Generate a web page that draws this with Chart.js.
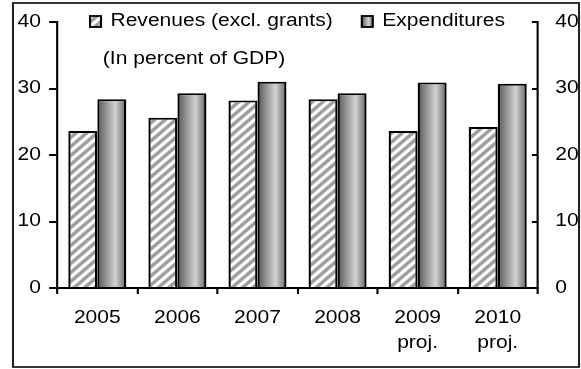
<!DOCTYPE html>
<html>
<head>
<meta charset="utf-8">
<script src="https://cdn.jsdelivr.net/npm/chart.js@4/dist/chart.umd.min.js"></script>
<style>
  html, body { margin: 0; padding: 0; background: #fff; }
  canvas { display: block; }
</style>
</head>
<body>
<canvas id="chart" width="497" height="369" style="width:581px;height:369px"></canvas>
<script>
// Fiscal balance: revenues vs expenditures, in percent of GDP
const categories = ['2005', '2006', '2007', '2008', ['2009', 'proj.'], ['2010', 'proj.']];
const revenues = [23.6, 25.6, 28.2, 28.4, 23.6, 24.2];
const expenditures = [28.4, 29.3, 31.0, 29.3, 30.9, 30.7];
const yTicks = [0, 10, 20, 30, 40];
const seriesNames = ['Revenues (excl. grants)', 'Expenditures'];
const unitNote = '(In percent of GDP)';

// the chart is laid out on a 497px-wide grid and drawn horizontally widened
// onto the 581px bitmap, giving the broad lettering of the original figure
const OUT_W = 581, LOGICAL_W = 497, H = 369;
const SX = OUT_W / LOGICAL_W;

const FONT = '"Liberation Sans", Arial, sans-serif';
const FONT_SIZE = 18;
const CAT_PCT = 0.725;

// diagonal hatch tile for the revenue bars
function makeHatch() {
  const s = 9;
  const c = document.createElement('canvas');
  c.width = s; c.height = s;
  const g = c.getContext('2d');
  g.fillStyle = '#ffffff';
  g.fillRect(0, 0, s, s);
  g.strokeStyle = '#9c9c9c';
  g.lineWidth = 3.2;
  g.beginPath();
  g.moveTo(-2, s + 2); g.lineTo(s + 2, -2);
  g.moveTo(-2, 2); g.lineTo(2, -2);
  g.moveTo(s - 2, s + 2); g.lineTo(s + 2, s - 2);
  g.stroke();
  return g.createPattern(c, 'repeat');
}

function barGradient(ctx, x0, x1) {
  const g = ctx.createLinearGradient(x0, 0, x1, 0);
  g.addColorStop(0, '#575757');
  g.addColorStop(0.62, '#d2d2d2');
  g.addColorStop(1, '#646464');
  return g;
}

const canvas = document.getElementById('chart');
const hatch = makeHatch();

const backgroundPlugin = {
  id: 'background',
  beforeDraw(chart) {
    const ctx = chart.ctx;
    ctx.save();
    ctx.fillStyle = '#ffffff';
    ctx.fillRect(0, 0, chart.width, chart.height);
    ctx.restore();
  }
};

const decorPlugin = {
  id: 'decor',
  afterDraw(chart) {
    const ctx = chart.ctx;
    const y2 = chart.scales.y2;
    ctx.save();
    // inward tick marks on the right axis
    ctx.strokeStyle = '#000';
    ctx.lineWidth = 2;
    ctx.beginPath();
    y2.ticks.forEach(t => {
      const y = Math.round(y2.getPixelForValue(t.value));
      ctx.moveTo(y2.left - 5, y);
      ctx.lineTo(y2.left, y);
    });
    ctx.stroke();

    // legend
    const ds = chart.data.datasets;
    ctx.font = FONT_SIZE + 'px ' + FONT;
    ctx.fillStyle = '#000';
    ctx.textBaseline = 'middle';
    ctx.textAlign = 'left';
    const bw = 9.4;
    const items = [
      { box: 77, text: 94.5, fill: hatch },
      { box: 309.5, text: 327, fill: barGradient(ctx, 309.5, 309.5 + bw) }
    ];
    items.forEach((it, i) => {
      ctx.fillStyle = it.fill;
      ctx.fillRect(it.box, 16, bw, 11);
      ctx.strokeStyle = '#000';
      ctx.lineWidth = 1.8;
      ctx.strokeRect(it.box, 16, bw, 11);
      ctx.fillStyle = '#000';
      ctx.fillText(ds[i].label, it.text, 21.5);
    });
    ctx.textAlign = 'center';
    ctx.fillText(unitNote, 166, 59);

    // outer frame
    ctx.strokeStyle = '#222';
    ctx.lineWidth = 1.8;
    ctx.strokeRect(11.1, 3, 484.2, 364);
    ctx.restore();
  }
};

const tickFont = { family: FONT, size: FONT_SIZE, lineHeight: 1.4 };

// value axes: fixed width, no extra head-room above the top tick
function fixValueAxis(width) {
  return function (s) {
    s.width = width;
    s.paddingTop = 0;
    s.paddingBottom = 0;
  };
}

const chart = new Chart(canvas, {
  type: 'bar',
  data: {
    labels: categories,
    datasets: [
      {
        label: seriesNames[0],
        data: revenues,
        backgroundColor: hatch,
        borderColor: '#000',
        borderWidth: 2,
        categoryPercentage: CAT_PCT,
        barPercentage: 1.0
      },
      {
        label: seriesNames[1],
        data: expenditures,
        backgroundColor(c) {
          const ch = c.chart;
          const xs = ch.scales && ch.scales.x;
          if (!xs || c.dataIndex === undefined) return '#aaaaaa';
          const center = xs.getPixelForValue(c.dataIndex);
          const half = xs.width / categories.length * CAT_PCT / 2;
          if (!isFinite(center) || !isFinite(half) || half <= 0) return '#aaaaaa';
          return barGradient(ch.ctx, center, center + half);
        },
        borderColor: '#000',
        borderWidth: 2,
        categoryPercentage: CAT_PCT,
        barPercentage: 1.0
      }
    ]
  },
  options: {
    responsive: false,
    animation: false,
    devicePixelRatio: 1,
    layout: { padding: { top: 22, left: 0, right: 0, bottom: 0 } },
    plugins: {
      legend: { display: false },
      tooltip: { enabled: false }
    },
    scales: {
      x: {
        grid: { offset: true, drawOnChartArea: false, drawTicks: true, tickLength: 6, color: '#000', lineWidth: 1.8 },
        border: { display: true, color: '#000', width: 2 },
        ticks: { font: tickFont, color: '#000', padding: 11, maxRotation: 0, autoSkip: false },
        afterFit(s) { s.height = 81; s.paddingLeft = 0; s.paddingRight = 0; }
      },
      y: {
        position: 'left',
        min: 0, max: 40,
        afterBuildTicks(s) { s.ticks = yTicks.map(v => ({ value: v })); },
        grid: { drawOnChartArea: false, drawTicks: true, tickLength: 7, color: '#000', lineWidth: 2 },
        border: { display: true, color: '#000', width: 1.8 },
        ticks: { font: tickFont, color: '#000', padding: 7 },
        afterFit: fixValueAxis(49)
      },
      y2: {
        position: 'right',
        min: 0, max: 40,
        afterBuildTicks(s) { s.ticks = yTicks.map(v => ({ value: v })); },
        grid: { drawOnChartArea: false, drawTicks: false },
        border: { display: true, color: '#000', width: 1.8 },
        ticks: { font: tickFont, color: '#000', padding: 15 },
        afterFit: fixValueAxis(37)
      }
    }
  },
  plugins: [backgroundPlugin, decorPlugin]
});

// widen the bitmap and redraw the same layout through a horizontal scale
canvas.width = OUT_W;
canvas.height = H;
canvas.style.width = OUT_W + 'px';
canvas.style.height = H + 'px';
chart.ctx.setTransform(SX, 0, 0, 1, 0, 0);
chart.draw();
</script>
</body>
</html>
